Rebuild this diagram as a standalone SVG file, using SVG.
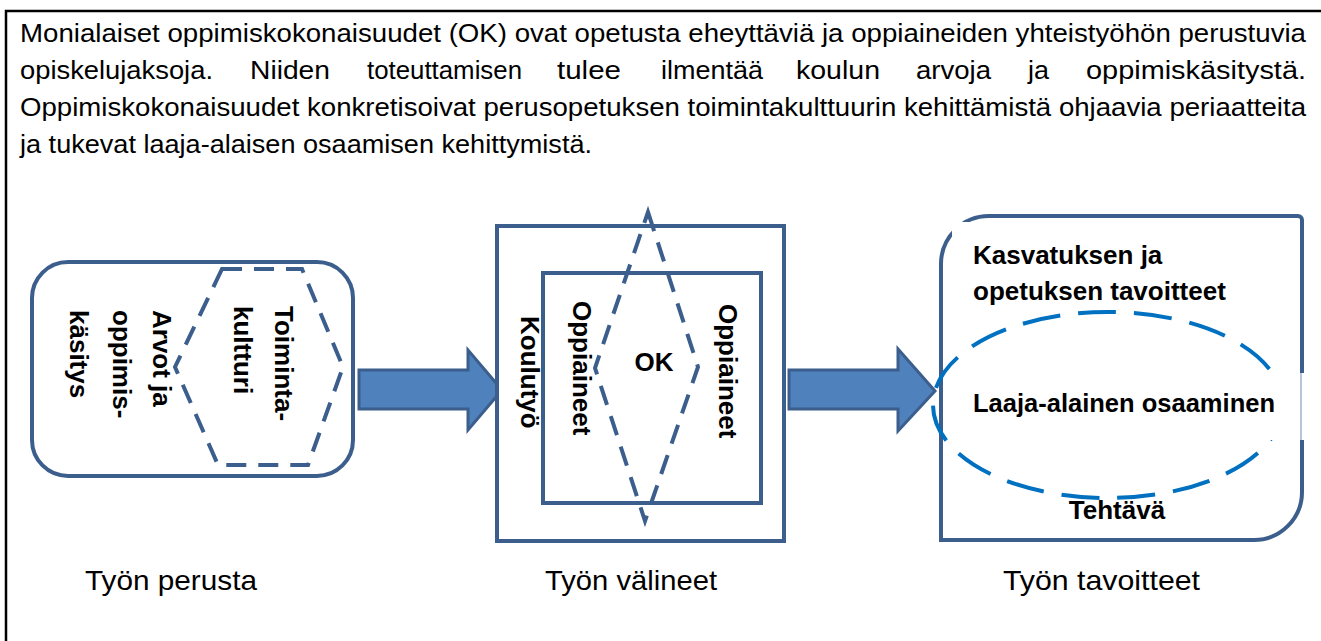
<svg xmlns="http://www.w3.org/2000/svg" width="1321" height="641" viewBox="0 0 1321 641">
<defs>
<style>
.para{font-family:"Liberation Sans",Arial,sans-serif;font-size:25px;fill:#000}
.lbl{font-family:"Liberation Sans",Arial,sans-serif;font-size:28px;fill:#000}
.b{font-family:"Liberation Sans",Arial,sans-serif;font-size:26px;font-weight:bold;fill:#000}
.box{fill:#fff;stroke:#3B5E8C;stroke-width:4}
.dash{fill:none;stroke:#3B5E8C;stroke-width:4;stroke-dasharray:20 12}
.arrow{fill:#4F81BD;stroke:#3B5E8C;stroke-width:3;stroke-linejoin:miter}
</style>
</defs>
<rect width="1321" height="641" fill="#fff"/>
<rect x="6" y="11" width="1400" height="700" fill="none" stroke="#000" stroke-width="2.5"/>

<g id="paragraph">
<text class="para" x="20" y="42" textLength="1286" lengthAdjust="spacingAndGlyphs">Monialaiset oppimiskokonaisuudet (OK) ovat opetusta eheyttäviä ja oppiaineiden yhteistyöhön perustuvia</text>
<text class="para" x="20" y="79" textLength="193" lengthAdjust="spacingAndGlyphs">opiskelujaksoja.</text>
<text class="para" x="250" y="79" textLength="80" lengthAdjust="spacingAndGlyphs">Niiden</text>
<text class="para" x="367" y="79" textLength="155" lengthAdjust="spacingAndGlyphs">toteuttamisen</text>
<text class="para" x="557" y="79" textLength="64" lengthAdjust="spacingAndGlyphs">tulee</text>
<text class="para" x="661" y="79" textLength="102" lengthAdjust="spacingAndGlyphs">ilmentää</text>
<text class="para" x="796" y="79" textLength="84" lengthAdjust="spacingAndGlyphs">koulun</text>
<text class="para" x="916" y="79" textLength="75" lengthAdjust="spacingAndGlyphs">arvoja</text>
<text class="para" x="1028" y="79" textLength="21" lengthAdjust="spacingAndGlyphs">ja</text>
<text class="para" x="1086" y="79" textLength="220" lengthAdjust="spacingAndGlyphs">oppimiskäsitystä.</text>
<text class="para" x="20" y="116" textLength="1286" lengthAdjust="spacingAndGlyphs">Oppimiskokonaisuudet konkretisoivat perusopetuksen toimintakulttuurin kehittämistä ohjaavia periaatteita</text>
<text class="para" x="20" y="153" textLength="572" lengthAdjust="spacingAndGlyphs">ja tukevat laaja-alaisen osaamisen kehittymistä.</text>
</g>

<g id="connectors">
<polygon class="arrow" points="359,370 468,370 468,350 502,390 468,430 468,409 359,409"/>
<polygon class="arrow" points="789,370 898,370 898,349 935,391 898,431 898,409 789,409"/>
</g>

<g id="node-perusta">
<rect class="box" x="32" y="262" width="321" height="214" rx="36" ry="36"/>
<polygon class="dash" points="222,269 302,269 343,367 308,465 218,465 175,367"/>
<text class="b" transform="translate(275,306) rotate(90)">Toiminta-</text>
<text class="b" transform="translate(234,306) rotate(90)">kultturi</text>
<text class="b" transform="translate(153,310) rotate(90)">Arvot ja</text>
<text class="b" transform="translate(113,310) rotate(90)">oppimis-</text>
<text class="b" transform="translate(70,310) rotate(90)">käsitys</text>
</g>

<g id="node-valineet">
<rect class="box" x="497" y="226" width="287" height="315"/>
<rect class="box" x="543" y="273" width="218" height="230"/>
<polygon class="dash" points="648,212 698,367 645,521 595,368"/>
<text class="b" transform="translate(521,316) rotate(90)">Koulutyö</text>
<text class="b" transform="translate(573,301) rotate(90)">Oppiaineet</text>
<text class="b" transform="translate(719,304) rotate(90)">Oppiaineet</text>
<text class="b" x="654" y="371" text-anchor="middle">OK</text>
</g>

<g id="node-tavoitteet">
<path class="box" d="M941,540 L941,264 A48,48 0 0 1 989,216 L1298,216 A4,4 0 0 1 1302,220 L1302,492 A48,48 0 0 1 1254,540 Z"/>
<ellipse cx="1108" cy="405" rx="175" ry="93" fill="none" stroke="#0070C0" stroke-width="4" stroke-dasharray="38 18"/>
<rect x="952" y="222" width="290" height="80" fill="#fff"/>
<rect x="955" y="373" width="350" height="67" fill="#fff"/>
<line x1="1301" y1="373" x2="1301" y2="440" stroke="#9FB3CF" stroke-width="1.5"/>
<text class="b" x="973" y="264">Kasvatuksen ja</text>
<text class="b" x="973" y="300">opetuksen tavoitteet</text>
<text class="b" x="973" y="412" textLength="302" lengthAdjust="spacingAndGlyphs">Laaja-alainen osaaminen</text>
<text class="b" x="1117" y="519" text-anchor="middle">Tehtävä</text>
</g>

<g id="labels">
<text class="lbl" x="85" y="590" textLength="172" lengthAdjust="spacingAndGlyphs">Työn perusta</text>
<text class="lbl" x="545" y="590" textLength="172" lengthAdjust="spacingAndGlyphs">Työn välineet</text>
<text class="lbl" x="1003" y="590" textLength="197" lengthAdjust="spacingAndGlyphs">Työn tavoitteet</text>
</g>
</svg>
